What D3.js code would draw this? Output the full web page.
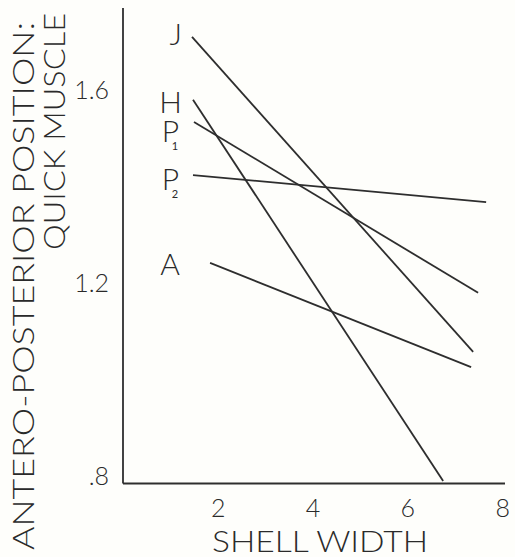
<!DOCTYPE html>
<html><head><meta charset="utf-8">
<script src="https://cdn.jsdelivr.net/npm/d3@7"></script>
<style>
html,body{margin:0;padding:0;background:#fefefb;}
svg{display:block;}
text{font-family:Lato,"Open Sans",sans-serif;font-weight:300;fill:#2a2a2a;}
</style></head><body>
<svg id="c" width="515" height="557"></svg>
<script>
const series = ["J","H","P1","P2","A"];
const startX = [1.456, 1.477, 1.498, 1.477, 1.837];
const startY = [1.725, 1.595, 1.549, 1.439, 1.257];
const endX   = [7.388, 6.755, 7.493, 7.662, 7.345];
const endY   = [1.0725, 0.805, 1.195, 1.383, 1.041];
const xTicks = [2,4,6,8];
const yTicks = [0.8,1.2,1.6];
const yTickLabels = [".8","1.2","1.6"];

// layout (pixel) constants for the hand-lettered series labels
const labelRight = [182, 182, 179, 179, 180];
const labelBaseDy = [8, 13, 20, 15, 12];

const svg = d3.select("#c");
const x = d3.scaleLinear().domain([0,8.06]).range([123,505]);
const y = d3.scaleLinear().domain([0.8,1.785]).range([483.5,8]);
const ink = "#2e2e2e";

// axes
const xAxis = d3.axisBottom(x).tickValues(xTicks).tickSize(0).tickPadding(16).tickFormat(d3.format("d"));
const gx = svg.append("g").attr("transform",`translate(0,${y(0.8)})`).call(xAxis);
gx.select(".domain").attr("stroke",ink).attr("stroke-width",1.8).attr("d",`M${x(0)},0H${x(8.06)}`);
gx.selectAll("text").style("font-size","25px").style("font-family","Lato,sans-serif").style("font-weight","300").attr("fill","#2a2a2a");

const yAxis = d3.axisLeft(y).tickValues(yTicks).tickSize(0).tickPadding(14)
  .tickFormat((d,i)=>yTickLabels[i]);
const gy = svg.append("g").attr("transform",`translate(${x(0)},0)`).call(yAxis);
gy.select(".domain").attr("stroke",ink).attr("stroke-width",1.8).attr("d",`M0,${y(0.8)}V${y(1.785)}`);
gy.selectAll("text").style("font-size","25px").style("font-family","Lato,sans-serif").style("font-weight","300")
  .attr("fill","#2a2a2a").attr("dy","0.05em");

// lines
svg.append("g").selectAll("line").data(series).join("line")
  .attr("x1",(d,i)=>x(startX[i])).attr("y1",(d,i)=>y(startY[i]))
  .attr("x2",(d,i)=>x(endX[i])).attr("y2",(d,i)=>y(endY[i]))
  .attr("stroke",ink).attr("stroke-width",1.8);

// series labels
const lab = svg.append("g");
series.forEach((s,i)=>{
  const by = y(startY[i]) + labelBaseDy[i];
  lab.append("text").attr("x", labelRight[i]).attr("y", by)
     .attr("text-anchor","end").style("font-size","30px").text(s[0]);
  if (s.length>1){
    lab.append("text").attr("x", labelRight[i]-4).attr("y", by + 8)
      .attr("text-anchor","middle").style("font-size","11px").style("font-weight","400").text(s.slice(1));
  }
});

// axis titles
svg.append("text").attr("x",212).attr("y",552)
  .attr("textLength",216).attr("lengthAdjust","spacingAndGlyphs")
  .style("font-size","29px").text("SHELL WIDTH");
svg.append("text").attr("transform","translate(34,550) rotate(-90)")
  .attr("textLength",528).attr("lengthAdjust","spacingAndGlyphs")
  .style("font-size","30px").text("ANTERO-POSTERIOR POSITION:");
svg.append("text").attr("transform","translate(65,250) rotate(-90)")
  .attr("textLength",237).attr("lengthAdjust","spacingAndGlyphs")
  .style("font-size","30px").text("QUICK MUSCLE");
</script>
</body></html>
